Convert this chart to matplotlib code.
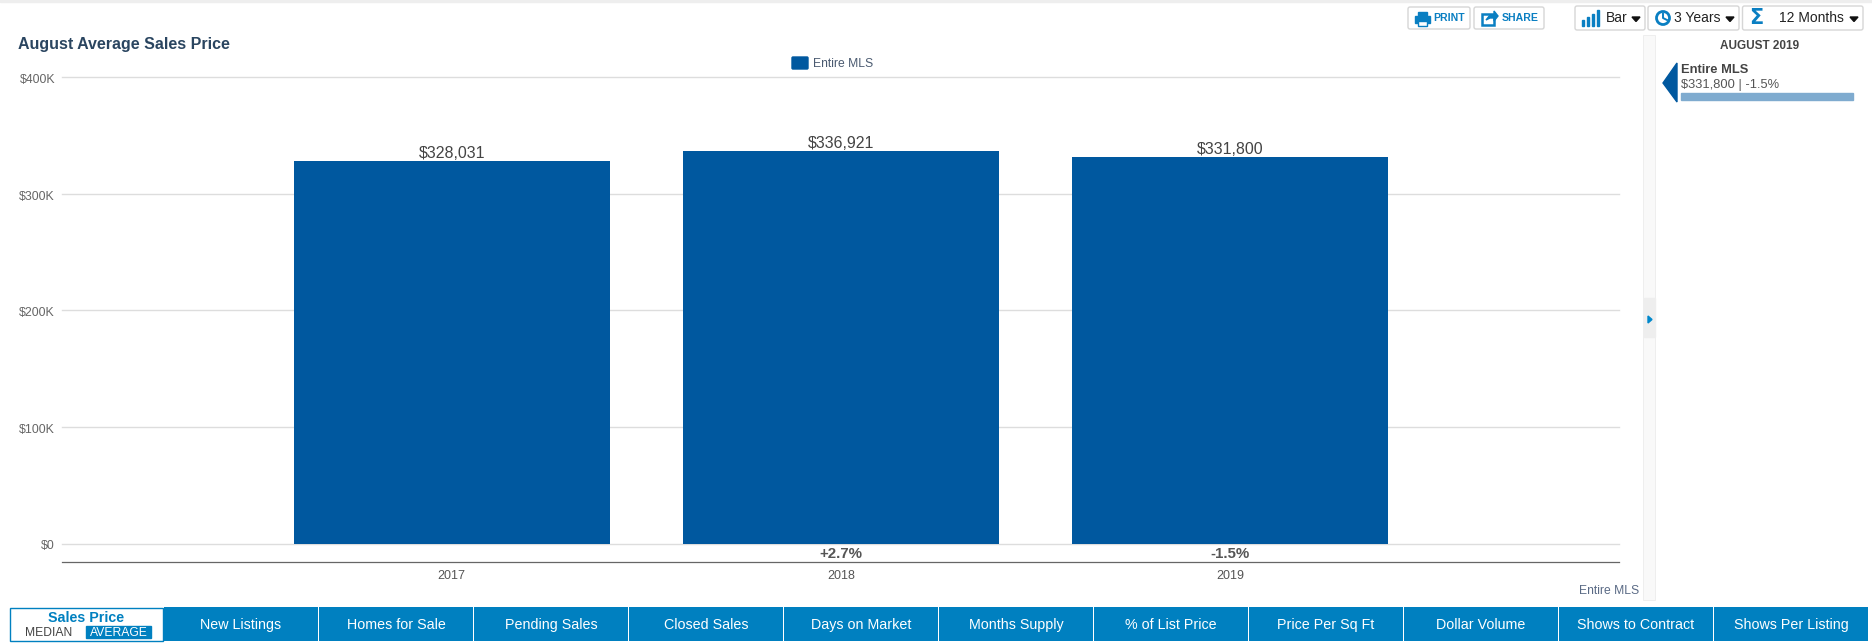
import matplotlib
matplotlib.use("Agg")
import matplotlib.pyplot as plt
from matplotlib.patches import Rectangle, FancyBboxPatch, Polygon, Circle
from matplotlib.transforms import blended_transform_factory, ScaledTranslation

plt.rcParams["font.family"] = ["Liberation Sans", "DejaVu Sans"]

years = ["2017", "2018", "2019"]
prices = [328031, 336921, 331800]
price_labels = ["$328,031", "$336,921", "$331,800"]
changes = ["", "+2.7%", "-1.5%"]
y_ticks = [0, 100000, 200000, 300000, 400000]
y_tick_labels = ["$0", "$100K", "$200K", "$300K", "$400K"]
tabs = ["New Listings", "Homes for Sale", "Pending Sales", "Closed Sales",
        "Days on Market", "Months Supply", "% of List Price", "Price Per Sq Ft",
        "Dollar Volume", "Shows to Contract", "Shows Per Listing"]

W, H = 1872, 643
BLUE = "#00589f"
TAB = "#0080c0"
ICON = "#0a7fc2"

fig = plt.figure(figsize=(W / 100, H / 100), dpi=100)

# main chart, positioned by pixels
left, right, top, bottom = 62, 1619, 77, 543.5
ax = fig.add_axes([left / W, 1 - bottom / H, (right - left) / W, (bottom - top) / H])
ax.set_xlim(-1.001, 2.999)
ax.set_ylim(0, 400000)
ax.bar(range(len(years)), prices, width=0.812, color=BLUE, zorder=3)
ax.set_yticks(y_ticks)
ax.set_yticklabels(y_tick_labels, fontsize=8.9, color="#666666")
ax.set_xticks(range(len(years)))
ax.set_xticklabels(years, fontsize=9, color="#555555")
ax.tick_params(axis="y", length=0, pad=5)
ax.tick_params(axis="x", length=0, pad=19)
shift = ScaledTranslation(0, -1.5 / 100, fig.dpi_scale_trans)
for lab in ax.get_yticklabels():
    lab.set_transform(lab.get_transform() + shift)
ax.grid(axis="y", color="#dddddd", lw=1, zorder=0, clip_on=False)
ax.set_axisbelow(True)
for s in ax.spines.values():
    s.set_visible(False)

for i, (p, lab) in enumerate(zip(prices, price_labels)):
    ax.annotate(lab, (i, p), xytext=(0, -0.4), textcoords="offset points",
                ha="center", va="bottom", fontsize=11.5, color="#444444")

tr = blended_transform_factory(ax.transData, ax.transAxes)
for i, c in enumerate(changes):
    ax.text(i, -0.0235, c, transform=tr, ha="center", va="center",
            fontsize=10.8, fontweight="bold", color="#555555")

# page furniture, pixel coordinates
ui = fig.add_axes([0, 0, 1, 1], facecolor="none")
ui.set_xlim(0, W)
ui.set_ylim(H, 0)
ui.axis("off")


def button(x0, x1, y0, y1):
    ui.add_patch(FancyBboxPatch((x0 + 2, y0 + 2), x1 - x0 - 4, y1 - y0 - 4,
                                boxstyle="round,pad=2", fc="white", ec="#d6d6d6", lw=1))


def caret(x, y):
    ui.add_patch(Polygon([(x - 4, y - 2), (x + 4, y - 2), (x, y + 2.5)], color="#111111"))


ui.add_patch(Rectangle((0, 0), W, 2, color="#eeeeee"))
ui.plot([62, 1619], [562, 562], color="#666666", lw=0.9)

ui.text(18, 44, "August Average Sales Price", fontsize=11.5, fontweight="bold",
        color="#2a4560", va="center")
ui.add_patch(FancyBboxPatch((793, 58), 14, 10, boxstyle="round,pad=1", color=BLUE))
ui.text(813, 64, "Entire MLS", fontsize=8.7, color="#4a5a70", va="center")
ui.text(1639, 591, "Entire MLS", fontsize=8.7, color="#5a6a85", va="center", ha="right")

# toolbar
button(1408, 1470, 7, 29)
ui.add_patch(Rectangle((1415, 16), 15, 7, color=ICON))
ui.add_patch(Rectangle((1418, 12), 9, 4, color=ICON))
ui.add_patch(Rectangle((1418, 21), 9, 5, fc="white", ec=ICON, lw=1))
ui.text(1433, 18, "PRINT", fontsize=7.6, fontweight="bold", color=ICON, va="center")
button(1474, 1544, 7, 29)
ui.add_patch(Rectangle((1482, 14), 12, 11, fc="white", ec=ICON, lw=1.8))
ui.add_patch(Polygon([(1486, 20), (1490, 15), (1494, 15), (1494, 11), (1498, 16),
                      (1494, 21), (1494, 18), (1490, 18)], color=ICON))
ui.text(1502, 18, "SHARE", fontsize=7.6, fontweight="bold", color=ICON, va="center")

button(1575, 1645, 6, 30)
for bx, bh in zip([1582, 1587, 1592, 1597], [6, 9, 12, 16]):
    ui.add_patch(Rectangle((bx, 26 - bh), 2, bh, color=ICON))
ui.text(1606, 18, "Bar", fontsize=10, color="#222222", va="center")
caret(1636, 19)

button(1648, 1739, 6, 30)
ui.add_patch(Circle((1663, 18), 6.5, fc="white", ec=ICON, lw=2))
ui.plot([1663, 1663, 1667], [14, 18, 20], color=ICON, lw=1.4)
ui.text(1674, 18, "3 Years", fontsize=10, color="#222222", va="center")
caret(1730, 19)

button(1742.5, 1863, 6, 30)
ui.text(1756, 18.5, "Σ", fontsize=15, fontweight="bold", color=ICON, va="center", ha="center",
        family="DejaVu Sans")
ui.text(1779, 18, "12 Months", fontsize=10, color="#222222", va="center")
caret(1854, 19)

# right panel
ui.add_patch(Rectangle((1643, 35), 12, 565, fc="#f9f9f9", ec="#eeeeee", lw=0.7))
ui.add_patch(Rectangle((1644, 298), 10.5, 39, color="#eeeeee"))
ui.add_patch(Polygon([(1648, 316), (1652, 319.5), (1648, 323)], color="#0088cc"))
ui.text(1760, 46, "AUGUST 2019", fontsize=8.5, fontweight="bold", color="#444444",
        ha="center", va="center")
ui.add_patch(Polygon([(1677, 63), (1677, 102), (1663, 83)], color=BLUE))
ui.text(1681, 70, "Entire MLS", fontsize=9.3, fontweight="bold", color="#444444", va="center")
ui.text(1681, 85, f"{price_labels[-1]} | {changes[-1]}", fontsize=9.3, color="#555555", va="center")
ui.add_patch(Rectangle((1681, 93), 172, 7, color="#7fabcf"))

# bottom tabs
ui.add_patch(Rectangle((9.5, 607.5), 153, 33, fc="white", ec=TAB, lw=1))
ui.text(86, 617.5, "Sales Price", fontsize=10.3, fontweight="bold", color=TAB, ha="center", va="center")
ui.text(49, 632.5, "MEDIAN", fontsize=8.7, color="#444444", ha="center", va="center")
ui.add_patch(Rectangle((86, 626), 65, 12, color=TAB))
ui.text(118.5, 632.5, "AVERAGE", fontsize=8.7, color="white", ha="center", va="center")
for i, name in enumerate(tabs):
    x0 = 164 + i * 155
    ui.add_patch(Rectangle((x0, 607), 154, 34, color=TAB, lw=0))
    ui.text(x0 + 77, 625, name, fontsize=10.3, color="white", ha="center", va="center")

fig.savefig("out.png", dpi=100, facecolor="white")
